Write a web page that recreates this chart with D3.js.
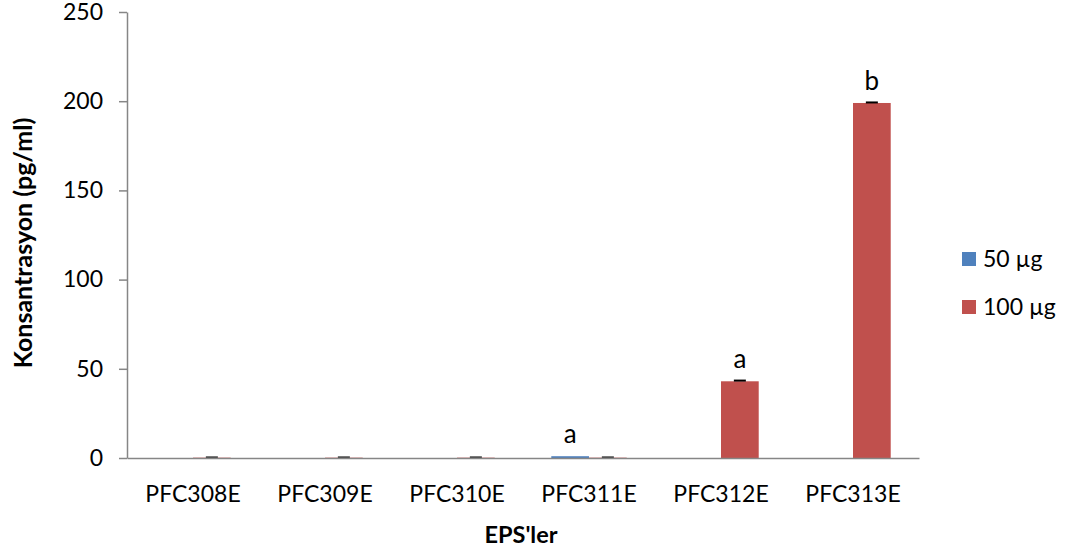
<!DOCTYPE html>
<html><head><meta charset="utf-8">
<script src="https://cdn.jsdelivr.net/npm/d3@7"></script>
<style>body{margin:0;background:#fff}svg{display:block}text{font-family:Lato,"Open Sans",sans-serif}</style>
</head><body><svg id="c" width="1067" height="553"></svg>
<script>
const categories = ["PFC308E","PFC309E","PFC310E","PFC311E","PFC312E","PFC313E"];
const seriesNames = ["50 µg","100 µg"];
const values50 = [0, 0, 0, 1, 0, 0];
const values100 = [0.2, 0.2, 0.2, 0.2, 43, 199];
const errors50 = [null, null, null, null, null, null];
const errors100 = [0.2, 0.2, 0.2, 0.2, 0.4, 0.3];
const letters50 = ["", "", "", "a", "", ""];
const letters100 = ["", "", "", "", "a", "b"];
const yTicks = [0, 50, 100, 150, 200, 250];
const colors = ["#4F81BD", "#C0504D"];

const svg = d3.select("#c");
const m = {l:127, r:919, t:12, b:458};
const x = d3.scaleBand().domain(categories).range([m.l, m.r]).paddingInner(0).paddingOuter(0);
const gapRatio = 1.5;
const bw = x.bandwidth()/(2+gapRatio);
const y = d3.scaleLinear().domain([0,250]).range([m.b, m.t]);

const series = [
  {name:seriesNames[0], vals:values50, errs:errors50, letters:letters50, color:colors[0]},
  {name:seriesNames[1], vals:values100, errs:errors100, letters:letters100, color:colors[1]}
];

series.forEach((s,si)=>{
  const xo = c => x(c) + x.bandwidth()/2 + (si-1)*bw;
  svg.append("g").selectAll("rect").data(categories).join("rect")
    .attr("x", c=>xo(c)).attr("width", bw)
    .attr("y", (c,i)=>y(s.vals[i])).attr("height",(c,i)=>y(0)-y(s.vals[i]))
    .attr("fill", s.color);
  categories.forEach((c,i)=>{
    if(s.errs[i]!=null){
      const cx = xo(c)+bw/2;
      svg.append("line").attr("x1",cx-6).attr("x2",cx+6)
        .attr("y1",y(s.vals[i]+s.errs[i])).attr("y2",y(s.vals[i]+s.errs[i]))
        .attr("stroke", s.vals[i] > 5 ? "#000" : "#444").attr("stroke-width",2);
    }
    if(s.letters[i]){
      svg.append("text").attr("x", xo(c)+bw/2).attr("y", y(s.vals[i]) - 13)
        .attr("text-anchor","middle").attr("font-size",26).attr("fill","#000").text(s.letters[i]);
    }
  });
});

// y axis
const yAxis = d3.axisLeft(y).tickValues(yTicks).tickSize(8).tickPadding(16).tickSizeOuter(0);
const gy = svg.append("g").attr("transform",`translate(${m.l},0)`).call(yAxis);
gy.selectAll("line, path").attr("stroke","#868686").attr("stroke-width",1.5);
gy.selectAll("text").attr("font-size",23).attr("fill","#000").attr("font-family","Lato");

// x axis
const xAxis = d3.axisBottom(x).tickSize(0).tickPadding(28);
const gx = svg.append("g").attr("transform",`translate(0,${m.b})`).call(xAxis);
gx.select("path").attr("stroke","#868686").attr("stroke-width",1.5);
gx.selectAll("text").attr("font-size",23).attr("fill","#000").attr("font-family","Lato");

// titles
svg.append("text").attr("x",521).attr("y",543).attr("text-anchor","middle")
  .attr("font-size",23.5).attr("font-weight","bold").text("EPS'ler");
svg.append("text").attr("transform","translate(32,243) rotate(-90)").attr("text-anchor","middle")
  .attr("font-size",25).attr("font-weight","bold").text("Konsantrasyon (pg/ml)");

// legend
const lg = svg.append("g").selectAll("g").data(series).join("g")
  .attr("transform",(d,i)=>`translate(962,${252+i*48})`);
lg.append("rect").attr("width",14).attr("height",14).attr("fill",d=>d.color);
lg.append("text").attr("x",21).attr("y",7).attr("dy","0.35em").attr("font-size",23).text(d=>d.name);
</script></body></html>
